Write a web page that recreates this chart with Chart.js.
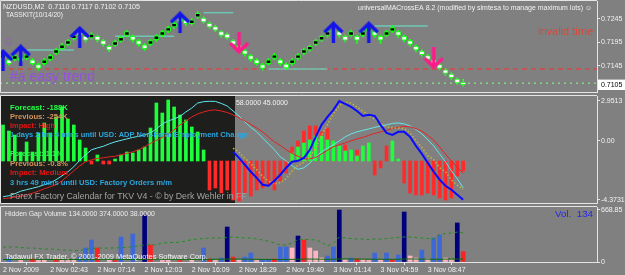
<!DOCTYPE html>
<html><head><meta charset="utf-8">
<script src="https://cdn.jsdelivr.net/npm/chart.js@4.4.1/dist/chart.umd.min.js"></script>
<style>
html,body{margin:0;padding:0;background:#808080;overflow:hidden;}
#wrap{position:relative;width:625px;height:275px;background:#808080;}
#wrap canvas{position:absolute;left:0;top:0;}
</style></head>
<body><div id="wrap">
<canvas id="pricePane" width="625" height="275"></canvas>
<canvas id="oscPane" width="625" height="275"></canvas>
<canvas id="volPane" width="625" height="275"></canvas>
</div>
<script>
// ---------- DATA ----------
const timeLabels = ["2 Nov 2009","2 Nov 02:43","2 Nov 07:14","2 Nov 12:03","2 Nov 16:09","2 Nov 18:29","2 Nov 19:40","3 Nov 01:14","3 Nov 04:59","3 Nov 08:47"];
const timeTickIdx = [0,8,16,24,32,40,48,56,64,72];

const candleOpen = [.7161,.7158,.7159,.7163,.7161,.7158,.7148,.7150,.7159,.7172,
.7182,.7191,.7203,.7218,.7208,.7205,.7208,.7199,.7187,.7189,
.7198,.7210,.7208,.7199,.7190,.7191,.7201,.7210,.7219,.7228,
.7247,.7243,.7235,.7249,.7247,.7236,.7229,.7218,.7213,.7199,
.7189,.7178,.7167,.7158,.7148,.7150,.7161,.7158,.7149,.7150,
.7161,.7172,.7179,.7191,.7200,.7210,.7219,.7218,.7208,.7210,
.7208,.7210,.7219,.7218,.7208,.7210,.7219,.7218,.7208,.7199,
.7187,.7177,.7167,.7158,.7148,.7137,.7128,.7117,.7110];
const candleHigh = [.7172,.7161,.7170,.7166,.7173,.7161,.7151,.7161,.7170,.7183,
.7193,.7202,.7214,.7222,.7211,.7216,.7211,.7202,.7190,.7200,
.7209,.7221,.7211,.7202,.7193,.7202,.7212,.7221,.7230,.7240,
.7250,.7246,.7246,.7261,.7250,.7239,.7232,.7221,.7216,.7202,
.7192,.7181,.7170,.7161,.7151,.7161,.7172,.7161,.7152,.7161,
.7172,.7183,.7190,.7202,.7211,.7221,.7231,.7221,.7211,.7222,
.7211,.7221,.7231,.7221,.7211,.7221,.7231,.7221,.7211,.7202,
.7190,.7180,.7170,.7161,.7151,.7140,.7131,.7120,.7117];
const candleLow = [.7157,.7147,.7156,.7151,.7158,.7147,.7136,.7147,.7156,.7169,
.7179,.7188,.7200,.7207,.7196,.7202,.7196,.7187,.7175,.7186,
.7195,.7207,.7196,.7187,.7178,.7188,.7197,.7207,.7216,.7225,
.7235,.7231,.7232,.7246,.7236,.7225,.7218,.7206,.7202,.7187,
.7178,.7166,.7155,.7147,.7136,.7147,.7158,.7146,.7138,.7147,
.7158,.7169,.7176,.7188,.7197,.7206,.7216,.7206,.7196,.7207,
.7193,.7207,.7216,.7206,.7193,.7207,.7216,.7206,.7196,.7187,
.7175,.7166,.7155,.7146,.7137,.7125,.7116,.7106,.7102];
const candleClose = [.7169,.7150,.7167,.7155,.7169,.7150,.7140,.7158,.7167,.7180,
.7190,.7199,.7211,.7210,.7200,.7213,.7200,.7191,.7179,.7197,
.7206,.7218,.7200,.7191,.7182,.7199,.7209,.7218,.7227,.7236,
.7239,.7235,.7243,.7257,.7239,.7228,.7221,.7210,.7205,.7191,
.7181,.7170,.7159,.7150,.7140,.7158,.7169,.7150,.7141,.7158,
.7169,.7180,.7187,.7199,.7208,.7218,.7227,.7210,.7200,.7218,
.7200,.7218,.7227,.7210,.7200,.7218,.7227,.7210,.7200,.7191,
.7179,.7169,.7159,.7150,.7140,.7129,.7120,.7109,.7105];

const buyArrowAt = [0,3,13,30,56,62];
const buyArrowPrice = [0.71577,0.71677,0.72067,0.72380,0.72167,0.72167];
const sellArrowAt = [40,73];
const sellArrowPrice = [0.71939,0.71614];

const redDashLevel = 0.71386;
const bidDotLevel = 0.71085;
const levelSegStart = [4,19,34,45,63];
const levelSegEnd = [12,29,39,55,72];
const levelSegPrice = [0.7179,0.72085,0.72584,0.71386,0.72301];
const priceTicks = [0.7245,0.7195,0.7145,0.7105];
const currentPrice = 0.7105;

const histGreen = [36,30,26,9,19,9,28,38,28,44,54,42,36,21,13,null,6,null,null,2,
6,9,8,11,14,33,58,48,61,54,46,41,34,29,11,null,null,null,null,null,
null,null,null,null,null,null,null,null,null,8,14,18,21,25,25,21,20,15,10,11,
5,15,18,null,null,null,20,2,null,null,null,null,null,null,null,null,null,null,null];
const histRed = [null,null,null,null,null,null,null,null,null,null,null,null,null,null,null,-3,null,-3,-3,null,
null,null,null,null,null,null,null,null,null,null,null,null,null,null,null,-29,-27,-32,-29,-39,
-40,-32,-35,-29,-27,-24,-29,-20,-12,14,20,30,35,35,29,33,12,null,16,null,
11,null,null,-14,-7,15,null,null,-22,-32,-34,-34,-32,-34,-37,-39,-37,-15,-10];
const macdBlue = [null,null,null,null,null,null,null,null,null,null,null,null,null,null,null,null,null,null,null,null,
null,null,null,null,null,null,null,null,null,null,null,null,null,null,null,null,null,null,null,
-0.82,-1.27,-1.78,-2.30,-2.75,-3.26,-3.34,-2.97,-2.52,-2.00,-1.56,-1.49,-1.27,-0.67,0.29,1.18,1.77,2.29,2.9513,2.73,
2.51,2.21,1.84,1.92,1.84,1.18,0.58,0.44,0.66,0.66,0.29,-0.38,-0.97,-1.64,-2.30,-2.89,-3.34,-3.63,-4.00,-4.3731];
const signalOlive = [null,null,null,null,null,null,null,null,null,null,null,null,null,null,null,null,null,null,null,null,
null,null,null,null,null,null,null,null,null,null,null,null,null,null,null,null,null,null,null,
-0.55,-0.85,-1.3,-1.7,-2.15,-2.65,-3.0,-3.2,-3.1,-2.8,-2.25,-1.8,-1.6,-1.2,-0.5,0.4,1.2,2.0,2.6,2.9,
2.8,2.5,2.2,1.9,1.6,1.3,1.05,0.95,0.95,0.9,0.6,0.0,-0.5,-1.1,-1.4,-2.0,-2.3,-2.9,-3.3,-3.6];
const maCyan = [-4.15,-4.08,-3.93,-3.74,-3.63,-3.52,-3.41,-3.26,-3.12,-2.89,
-2.60,-2.30,-1.93,-1.45,-1.04,-0.67,-0.53,-0.41,-0.23,-0.08,
0.03,0.14,0.25,0.33,0.44,0.58,0.88,1.25,1.47,1.62,
1.81,2.14,2.43,2.80,2.90,2.93,2.92,2.77,2.58,2.21,
1.84,1.40,0.99,0.66,0.21,-0.23,-0.67,-1.19,-1.49,-1.86,
-2.12,-2.01,-1.67,-1.19,-0.82,-0.53,-0.30,-0.01,0.29,0.51,
0.66,0.77,0.88,0.99,1.10,1.18,1.29,1.32,1.25,1.10,
0.84,0.51,0.07,-0.38,-0.97,-1.56,-2.23,-2.82,-3.49];
const maRed = [-4.30,-4.25,-4.18,-4.11,-4.00,-3.89,-3.74,-3.56,-3.41,-3.26,
-2.97,-2.60,-2.23,-1.86,-1.56,-1.41,-1.30,-1.27,-1.19,-1.15,
-1.04,-0.93,-0.82,-0.67,-0.45,-0.19,0.03,0.25,0.51,0.81,
1.18,1.47,1.77,1.99,2.14,2.25,2.29,2.21,2.10,1.92,
1.69,1.47,1.21,0.95,0.66,0.29,-0.08,-0.34,-0.67,-0.93,
-1.15,-1.34,-1.34,-1.23,-0.97,-0.71,-0.45,-0.30,-0.16,-0.01,
0.14,0.25,0.40,0.55,0.66,0.77,0.92,0.99,1.08,1.03,
0.90,0.70,0.40,0.05,-0.45,-1.00,-1.50,-1.97,-2.41];
const oscTicks = [2.9513,0,-4.3731];

const volBlueAt = [1,13,14,15,20,22,34,37,41,42,44,45,47,48,55,56,59,63,65,67,71,73,74];
const volBlue = [51,64,180,283,321,360,180,51,64,116,26,32,193,193,77,193,51,116,116,90,154,309,347];
const volNavyAt = [24,38,50,57,68,77];
const volNavy = [604,450,334,668.85,643,502];
const volRedAt = [5,9,16,19,25,30,35,39,46,51,60,66,78];
const volRed = [38,38,180,20,219,20,40,64,39,283,39,26,134];
const volPinkAt = [3,6,7,10,11,12,18,27,28,32,36,40,43,49,52,53,54,58,61,62,64,69,70,72,75,76];
const volPink = [20,20,26,26,20,26,26,20,26,26,20,26,20,180,180,141,51,26,26,20,26,77,51,39,51,26];
const volAvg = [193,193,193,186,180,180,174,167,167,161,
154,154,148,148,161,174,180,180,180,180,
186,186,199,206,219,225,219,244,251,251,
257,270,289,296,302,309,309,309,315,322,
315,309,309,296,283,270,244,219,219,244,
289,289,289,283,257,206,244,322,309,302,
296,296,289,296,296,302,309,315,322,322,
315,309,302,296,354,366,373,385,374];
const volLow = [32,32,33,33,34,34,33,33,32,32,31,31,32,32,33,34,35,35,34,34,
33,33,32,32,33,35,36,36,35,35,34,34,33,33,33,34,35,36,38,38,
37,36,35,34,33,33,32,32,33,34,36,38,38,37,36,35,36,40,40,39,
38,37,36,35,35,34,34,35,38,39,38,37,36,35,36,37,38,38,38];
const volTicks = [668.85,0];

// ---------- HELPERS ----------
const FAM = "'Liberation Sans', 'DejaVu Sans', sans-serif";
const X_MIN = -0.51, X_MAX = 100.68;
Chart.defaults.font.family = "'Liberation Sans', 'DejaVu Sans', sans-serif";

const ptsOf = arr => arr.map((v, i) => v === null ? null : {x: i, y: v}).filter(p => p !== null);
const pairs = (at, val) => at.map((x, k) => ({x: x, y: val[k]}));

function makeArrow(dir, color) {
  const c = document.createElement('canvas');
  c.width = 21; c.height = 22;
  const g = c.getContext('2d');
  g.strokeStyle = color; g.lineWidth = 3.4; g.lineJoin = 'miter'; g.lineCap = 'butt';
  g.beginPath();
  if (dir === 'up') { g.moveTo(1.5, 11); g.lineTo(10.5, 2.2); g.lineTo(19.5, 11); g.moveTo(10.5, 3); g.lineTo(10.5, 22); }
  else { g.moveTo(10.5, 0); g.lineTo(10.5, 19); g.moveTo(1.5, 11); g.lineTo(10.5, 19.8); g.lineTo(19.5, 11); }
  g.stroke();
  return c;
}
const upImg = makeArrow('up', '#1414e8');
const downImg = makeArrow('down', '#ff1a8c');

function textLayer(id, items, hook) {
  const p = { id: id };
  p[hook || 'afterDraw'] = function(chart) {
    const g = chart.ctx;
    g.save();
    items.forEach(it => {
      const wt = it.b ? 'bold ' : '';
      let size = it.s || 7;
      if (it.w) { g.font = wt + '10px ' + FAM; size = 10 * it.w / g.measureText(it.t).width; }
      g.font = wt + size.toFixed(2) + 'px ' + FAM;
      g.fillStyle = it.c;
      g.textBaseline = 'middle';
      g.textAlign = it.a || 'left';
      g.fillText(it.t, it.x, it.y);
    });
    g.restore();
  };
  return p;
}

const frame = {
  id: 'frame',
  afterDatasetsDraw(chart) {
    const a = chart.chartArea, g = chart.ctx;
    g.save(); g.strokeStyle = '#e4e4e4'; g.lineWidth = 1; g.beginPath();
    g.moveTo(0.5, a.bottom + 0.5); g.lineTo(0.5, a.top - 0.5); g.lineTo(a.right, a.top - 0.5);
    g.moveTo(0.5, a.bottom + 0.5); g.lineTo(a.right, a.bottom + 0.5);
    g.stroke(); g.restore();
  }
};

function rightAxis(min, max, tickVals, fmt, extra) {
  return {
    type: 'linear', position: 'right', min: min, max: max,
    afterFit: s => { s.width = 28; s.paddingTop = 0; s.paddingBottom = 0; },
    afterBuildTicks: s => { s.ticks = tickVals.map(v => ({value: v})); },
    ticks: Object.assign({ autoSkip: false, padding: 1, color: '#f2f2f2', font: {size: 7}, callback: fmt }, extra || {}),
    grid: { drawOnChartArea: false, drawTicks: true, tickLength: 3, color: '#e4e4e4' },
    border: { display: true, color: '#e4e4e4', width: 1 }
  };
}
const hiddenX = { type: 'linear', min: X_MIN, max: X_MAX, display: false, offset: false };
const common = (padTop, padBottom) => ({
  responsive: false, animation: false, devicePixelRatio: 1, events: [],
  layout: { padding: { top: padTop, bottom: padBottom, left: 0, right: 0 }, autoPadding: false },
  plugins: { legend: { display: false }, tooltip: { enabled: false } }
});
const idx = candleOpen.map((_, i) => i);

// ---------- PANE 1: PRICE ----------
const o1 = common(1, 183);
o1.scales = {
  x: hiddenX,
  y: rightAxis(0.708966, 0.72833, priceTicks, v => v.toFixed(4), {
    color: c => (c.tick && c.tick.value === currentPrice) ? '#000000' : '#f2f2f2',
    showLabelBackdrop: c => !!(c.tick && c.tick.value === currentPrice),
    backdropColor: '#ffffff',
    backdropPadding: { left: 3, right: 5, top: 1, bottom: 1 }
  })
};
const lineDs = (data, color, width, dash, order) => ({
  type: 'line', data: data, borderColor: color, borderWidth: width, borderDash: dash || [],
  pointRadius: 0, fill: false, tension: 0, order: order
});
new Chart(document.getElementById('pricePane'), {
  type: 'bar',
  data: { datasets: [
    lineDs([{x: X_MIN, y: redDashLevel}, {x: X_MAX, y: redDashLevel}], '#ff2b2b', 1, [5, 4], 30),
    lineDs([{x: X_MIN, y: bidDotLevel}, {x: X_MAX, y: bidDotLevel}], '#8cff8c', 1, [2, 4], 30),
    ...levelSegStart.map((s, k) => lineDs([{x: s, y: levelSegPrice[k]}, {x: levelSegEnd[k], y: levelSegPrice[k]}], '#6cc8b4', 1.5, [], 25)),
    { type: 'bar', data: idx.map(i => ({x: i, y: [candleLow[i], candleHigh[i]]})), backgroundColor: '#1eff1e',
      barThickness: 1, grouped: false, order: 10 },
    { type: 'bar', data: idx.map(i => ({x: i, y: [candleOpen[i], candleClose[i]]})),
      backgroundColor: c => candleClose[c.dataIndex] > candleOpen[c.dataIndex] ? '#000000' : '#ffffff',
      borderColor: '#1eff1e', borderWidth: 1, borderSkipped: false, barThickness: 5, grouped: false, order: 9 },
    { type: 'scatter', data: pairs(buyArrowAt, buyArrowPrice), pointStyle: upImg, pointRadius: 6, order: 2 },
    { type: 'scatter', data: pairs(sellArrowAt, sellArrowPrice), pointStyle: downImg, pointRadius: 6, order: 2 }
  ]},
  options: o1,
  plugins: [frame, textLayer('t1', [
    {t: 'NZDUSD,M2  0.7110 0.7117 0.7102 0.7105', x: 3, y: 7, w: 137, c: '#f2f2f2'},
    {t: 'TASSKIT(10/14/20)', x: 6, y: 15, w: 57, c: '#f2f2f2'},
    {t: 'universalMACrossEA 8.2 (modified by simtesa to manage maximum lots) \u263A', x: 592, y: 8, w: 234, c: '#f2f2f2', a: 'right'},
    {t: 'invalid time', x: 593, y: 31.5, w: 55, c: '#d8483a', a: 'right'},
    {t: '\u263A', x: 3, y: 41.5, s: 11, c: '#9650dc'},
    {t: '#a easy trend', x: 10, y: 77, w: 85, c: '#9650dc'}
  ])]
});

// ---------- PANE 2: OSCILLATORS ----------
const o2 = common(96, 72);
o2.scales = {
  x: hiddenX,
  y: rightAxis(-4.6172, 3.3212, oscTicks, v => v === 0 ? '0.00' : v.toFixed(4)),
  yh: { type: 'linear', display: false, min: -42, max: 65 }
};
const darkBox = {
  id: 'darkBox',
  beforeDatasetsDraw(chart) {
    const a = chart.chartArea, g = chart.ctx;
    g.save(); g.fillStyle = '#1e1e1c'; g.fillRect(1, a.top, 234, a.bottom - a.top); g.restore();
  }
};
new Chart(document.getElementById('oscPane'), {
  type: 'bar',
  data: { datasets: [
    { type: 'bar', data: ptsOf(histRed), yAxisID: 'yh', backgroundColor: '#ff2a2a', barThickness: 3, grouped: false, order: 20 },
    { type: 'bar', data: ptsOf(histGreen), yAxisID: 'yh', backgroundColor: '#1eff3c', barThickness: 3, grouped: false, order: 19 },
    lineDs(ptsOf(maCyan), '#62e6ea', 1, [], 6),
    lineDs(ptsOf(maRed), '#e42222', 1, [], 5),
    lineDs(ptsOf(signalOlive), '#c4b440', 1.5, [1.5, 2], 4),
    lineDs(ptsOf(macdBlue), '#0a0aff', 2, [], 3)
  ]},
  options: o2,
  plugins: [darkBox, frame, textLayer('t2', [
    {t: 'Forecast: -188K', x: 10, y: 108, w: 58, c: '#22ff44', b: true},
    {t: 'Previous: -254K', x: 10, y: 117, w: 58, c: '#d4955a', b: true},
    {t: 'Impact: High', x: 10, y: 125.5, w: 45, c: '#e81414', b: true},
    {t: '1 days 2 hrs 4 mins until USD: ADP Non-Farm Employment Change', x: 10, y: 134.5, w: 238, c: '#2aa8e0', b: true},
    {t: 'Forecast: 1.1%', x: 10, y: 153.5, w: 53, c: '#22ff44', b: true},
    {t: 'Previous: -0.8%', x: 10, y: 163.5, w: 58, c: '#d4955a', b: true},
    {t: 'Impact: Medium', x: 10, y: 172.5, w: 58, c: '#e81414', b: true},
    {t: '3 hrs 49 mins until USD: Factory Orders m/m', x: 10, y: 182.5, w: 162, c: '#2aa8e0', b: true},
    {t: 'Forex Factory Calendar for TKV V4 - \u00A9 by Derk Wehler in FF', x: 10, y: 197, w: 237, c: '#a4a4a4'},
    {t: '58.0000 45.0000', x: 236, y: 103, w: 52, c: '#f2f2f2'}
  ], 'afterDatasetsDraw')]
});

// ---------- PANE 3: VOLUME ----------
const o3 = common(207, 0);
o3.scales = {
  x: { type: 'linear', min: X_MIN, max: X_MAX, offset: false,
    afterFit: s => { s.height = 13; s.paddingLeft = 0; s.paddingRight = 0; },
    afterBuildTicks: s => { s.ticks = timeTickIdx.map(v => ({value: v})); },
    ticks: { autoSkip: false, maxRotation: 0, minRotation: 0, align: 'start', padding: 1, color: '#f2f2f2', font: {size: 7},
      callback: v => { const k = timeTickIdx.indexOf(v); return k < 0 ? '' : timeLabels[k]; } },
    grid: { drawOnChartArea: false, drawTicks: true, tickLength: 3, color: '#e4e4e4' },
    border: { display: false }
  },
  y: rightAxis(0, 707.4, volTicks, v => v === 0 ? '0' : v.toFixed(2))
};
const volBar = (at, val, color) => ({ type: 'bar', data: pairs(at, val), backgroundColor: color, barThickness: 4, grouped: false, order: 10 });
new Chart(document.getElementById('volPane'), {
  type: 'bar',
  data: { datasets: [
    volBar(volBlueAt, volBlue, '#3c68d8'),
    volBar(volNavyAt, volNavy, '#00007e'),
    volBar(volRedAt, volRed, '#ff2222'),
    volBar(volPinkAt, volPink, '#ffb4c4'),
    lineDs(ptsOf(volAvg), '#1f8f1f', 1, [3, 3], 3),
    lineDs(ptsOf(volLow), '#0a6a0a', 1, [], 2)
  ]},
  options: o3,
  plugins: [frame, textLayer('t3', [
    {t: 'Hidden Gap Volume 134.0000 374.0000 38.0000', x: 5, y: 214.5, w: 150, c: '#ececec'},
    {t: 'Vol.  134', x: 593, y: 214, w: 38, c: '#2424ee', a: 'right'},
    {t: 'Tadawul FX Trader, \u00A9 2001-2009 MetaQuotes Software Corp.', x: 5, y: 257, w: 203, c: '#f4f4f4'}
  ])]
});
</script>
</body></html>
